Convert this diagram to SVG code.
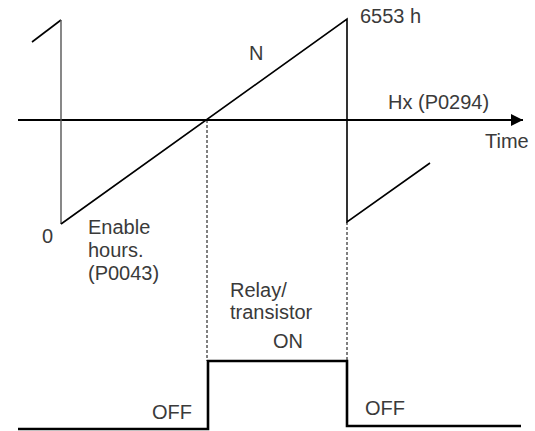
<svg xmlns="http://www.w3.org/2000/svg" width="535" height="431" viewBox="0 0 535 431">
<style>
text{font-family:"Liberation Sans",Arial,sans-serif;font-size:20px;fill:#3a3a3a}
.ln{stroke:#000;stroke-width:1.6;fill:none}
.dash{stroke:#000;stroke-width:1;stroke-dasharray:3,2;fill:none}
.sq{stroke:#000;stroke-width:2.6;fill:none}
</style>
<defs>
<marker id="arr" viewBox="0 0 12 12" refX="12" refY="6" markerWidth="12" markerHeight="12" markerUnits="userSpaceOnUse" orient="auto">
<path d="M0,0 L12,6 L0,12 Z" fill="#000"/>
</marker>
</defs>
<g id="connectors">
<line class="dash" x1="207" y1="120" x2="207" y2="361"/>
<line class="dash" x1="347" y1="222" x2="347" y2="361"/>
<line x1="18" y1="120" x2="523" y2="120" stroke="#000" stroke-width="2.2" marker-end="url(#arr)"/>
<polyline class="ln" points="32,42 61,20"/>
<line x1="61" y1="20" x2="61" y2="224" stroke="#555" stroke-width="1.4"/>
<polyline class="ln" points="61,224 347,19 347,222 430,163"/>
<polyline class="sq" points="18,429 208,429 208,361 347,361 347,426 521,426"/>
</g>
<g id="labels">
<text x="249" y="60">N</text>
<text x="360" y="23">6553 h</text>
<text x="388" y="109">Hx (P0294)</text>
<text x="485" y="148">Time</text>
<text x="42" y="243">0</text>
<text x="88" y="234">Enable</text>
<text x="88" y="257">hours.</text>
<text x="88" y="280">(P0043)</text>
<text x="230" y="297">Relay/</text>
<text x="230" y="319">transistor</text>
<text x="273" y="348">ON</text>
<text x="152" y="419">OFF</text>
<text x="365" y="415">OFF</text>
</g>
</svg>
